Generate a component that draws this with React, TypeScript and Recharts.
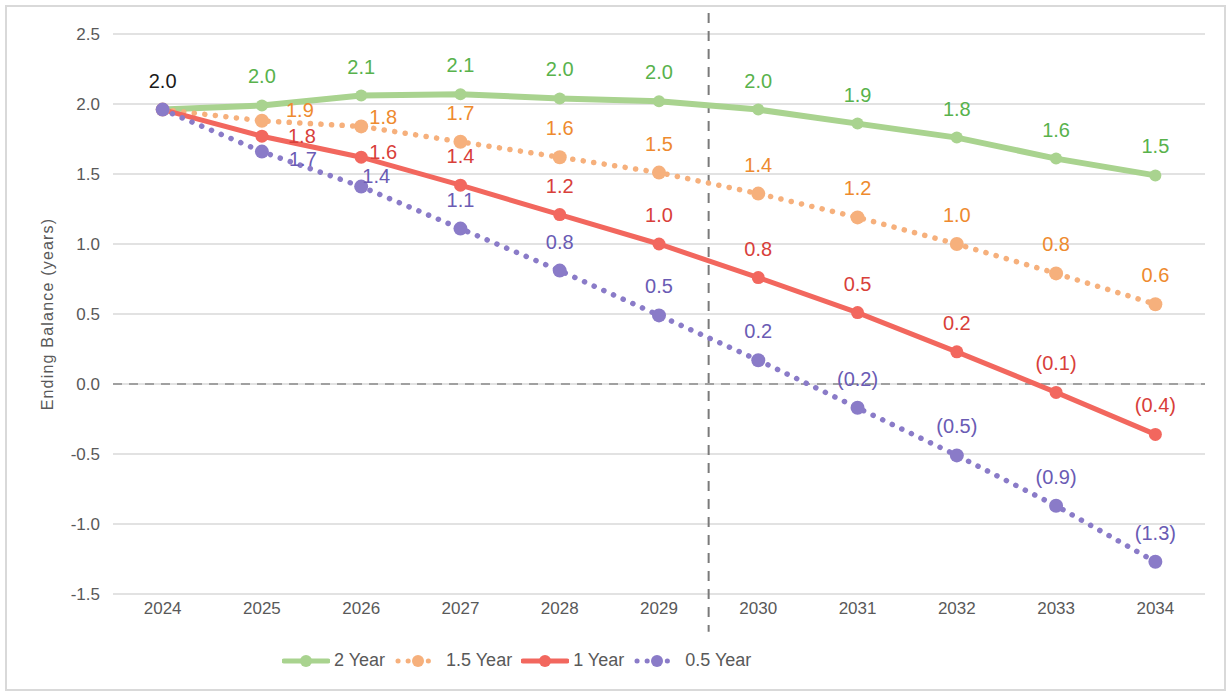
import React from "react";
import {
  LineChart,
  Line,
  XAxis,
  YAxis,
  CartesianGrid,
  ReferenceLine,
  LabelList,
} from "recharts";

const YEARS = [2024, 2025, 2026, 2027, 2028, 2029, 2030, 2031, 2032, 2033, 2034];
const TWO_YEAR = [1.96, 1.99, 2.06, 2.07, 2.04, 2.02, 1.96, 1.86, 1.76, 1.61, 1.49];
const ONE_HALF_YEAR = [1.96, 1.88, 1.84, 1.73, 1.62, 1.51, 1.36, 1.19, 1.0, 0.79, 0.57];
const ONE_YEAR = [1.96, 1.77, 1.62, 1.42, 1.21, 1.0, 0.76, 0.51, 0.23, -0.06, -0.36];
const HALF_YEAR = [1.96, 1.66, 1.41, 1.11, 0.81, 0.49, 0.17, -0.17, -0.51, -0.87, -1.27];
const Y_TICKS = [-1.5, -1.0, -0.5, 0, 0.5, 1.0, 1.5, 2.0, 2.5];

const FONT = '"Liberation Sans", Arial, sans-serif';
const AXIS_GRAY = "#595959";

const data = YEARS.map((year, i) => ({
  year,
  twoYear: TWO_YEAR[i],
  oneHalfYear: ONE_HALF_YEAR[i],
  oneYear: ONE_YEAR[i],
  halfYear: HALF_YEAR[i],
}));

type Offsets = Record<number, [number, number]>;

interface SeriesDef {
  key: string;
  name: string;
  line: string;
  text: string;
  dotted: boolean;
  width: number;
  r: number;
  offsets: Offsets;
}

const SERIES: SeriesDef[] = [
  { key: "twoYear", name: "2 Year", line: "#a9d38f", text: "#58b24c", dotted: false, width: 6, r: 6, offsets: {} },
  {
    key: "oneHalfYear", name: "1.5 Year", line: "#f6b07c", text: "#ee8a2e", dotted: true, width: 5.5, r: 7,
    offsets: { 1: [38, -11], 2: [22, -9] },
  },
  {
    key: "oneYear", name: "1 Year", line: "#f2675e", text: "#d8403a", dotted: false, width: 5, r: 6.5,
    offsets: { 1: [40, 0], 2: [22, -5] },
  },
  {
    key: "halfYear", name: "0.5 Year", line: "#8a7bc8", text: "#6a5bb4", dotted: true, width: 5.5, r: 7,
    offsets: { 1: [41, 7], 2: [15, -11] },
  },
];

const fmt = (v: number) => (v < 0 ? `(${Math.abs(v).toFixed(1)})` : v.toFixed(1));

// value labels sit above each point unless an offset is given; the shared
// 2024 starting value is labelled once, in black, by the first series
const makeLabel = (s: SeriesDef, first: boolean) => (props: any) => {
  const { x, y, value, index } = props;
  if (index === 0 && !first) return null;
  const [dx, dy] = s.offsets[index] ?? [0, -29];
  const fill = index === 0 ? "#1a1a1a" : s.text;
  return (
    <text
      x={x + dx}
      y={y + dy}
      textAnchor="middle"
      dominantBaseline="central"
      fill={fill}
      fontSize={20}
      fontFamily={FONT}
    >
      {fmt(value)}
    </text>
  );
};

const YTitle = (props: any) => {
  const { viewBox } = props;
  const cx = viewBox.x + 17;
  const cy = viewBox.y + viewBox.height / 2;
  return (
    <text
      x={cx}
      y={cy}
      transform={`rotate(-90, ${cx}, ${cy})`}
      textAnchor="middle"
      dominantBaseline="central"
      fill={AXIS_GRAY}
      fontSize={16}
      letterSpacing={1.2}
      fontFamily={FONT}
    >
      Ending Balance (years)
    </text>
  );
};

function LegendIcon({ s }: { s: SeriesDef }) {
  return (
    <svg width={48} height={16} style={{ display: "block" }}>
      <line
        x1={s.dotted ? 4 : 2}
        y1={8}
        x2={s.dotted ? 44 : 46}
        y2={8}
        stroke={s.line}
        strokeWidth={5}
        strokeDasharray={s.dotted ? "0.1 10" : undefined}
        strokeLinecap="round"
      />
      <circle cx={24} cy={8} r={6} fill={s.line} />
    </svg>
  );
}

export default function App() {
  return (
    <div
      style={{
        position: "fixed",
        left: 0,
        top: 0,
        width: 1231,
        height: 692,
        background: "#fff",
        fontFamily: FONT,
      }}
    >
      <div
        style={{
          position: "absolute",
          left: 5,
          top: 5,
          width: 1217,
          height: 682,
          border: "2px solid #d9d9d9",
        }}
      />
      <div style={{ position: "absolute", left: 0, top: 0 }}>
        <LineChart
          width={1231}
          height={692}
          data={data}
          margin={{ top: 34, right: 26, bottom: 68, left: 30 }}
        >
          <CartesianGrid vertical={false} stroke="#d9d9d9" strokeWidth={1.5} />
          <XAxis
            dataKey="year"
            type="number"
            domain={[2023.5, 2034.5]}
            ticks={YEARS}
            interval={0}
            height={30}
            axisLine={false}
            tickLine={false}
            tickSize={0}
            tickMargin={8}
            tick={{ fill: AXIS_GRAY, fontSize: 17, fontFamily: FONT }}
          />
          <YAxis
            type="number"
            domain={[-1.5, 2.5]}
            ticks={Y_TICKS}
            width={83}
            axisLine={false}
            tickLine={false}
            tickSize={0}
            tickMargin={13}
            tickFormatter={(v: number) => v.toFixed(1)}
            tick={{ fill: AXIS_GRAY, fontSize: 17, fontFamily: FONT }}
            label={<YTitle />}
          />
          <ReferenceLine y={0} stroke="#a0a0a0" strokeWidth={2} strokeDasharray="9 7" />
          <ReferenceLine
            segment={[
              { x: 2029.5, y: 2.65 },
              { x: 2029.5, y: -1.77 },
            ]}
            ifOverflow="visible"
            stroke="#7a7a7a"
            strokeWidth={2}
            strokeDasharray="10 8"
          />
          {SERIES.map((s, i) => (
            <Line
              key={s.key}
              dataKey={s.key}
              name={s.name}
              type="linear"
              stroke={s.line}
              strokeWidth={s.width}
              strokeDasharray={s.dotted ? "0.1 10.5" : undefined}
              strokeLinecap="round"
              dot={{ r: s.r, fill: s.line, stroke: s.line, strokeWidth: 0, strokeDasharray: "" }}
              activeDot={false}
              isAnimationActive={false}
            >
              <LabelList dataKey={s.key} content={makeLabel(s, i === 0)} />
            </Line>
          ))}
        </LineChart>
      </div>
      <div
        style={{
          position: "absolute",
          left: 282,
          top: 650,
          display: "flex",
          alignItems: "center",
          color: AXIS_GRAY,
          fontSize: 18,
        }}
      >
        {SERIES.map((s) => (
          <div key={s.key} style={{ display: "flex", alignItems: "center", marginRight: 9 }}>
            <LegendIcon s={s} />
            <span style={{ marginLeft: 4 }}>{s.name}</span>
          </div>
        ))}
      </div>
    </div>
  );
}
